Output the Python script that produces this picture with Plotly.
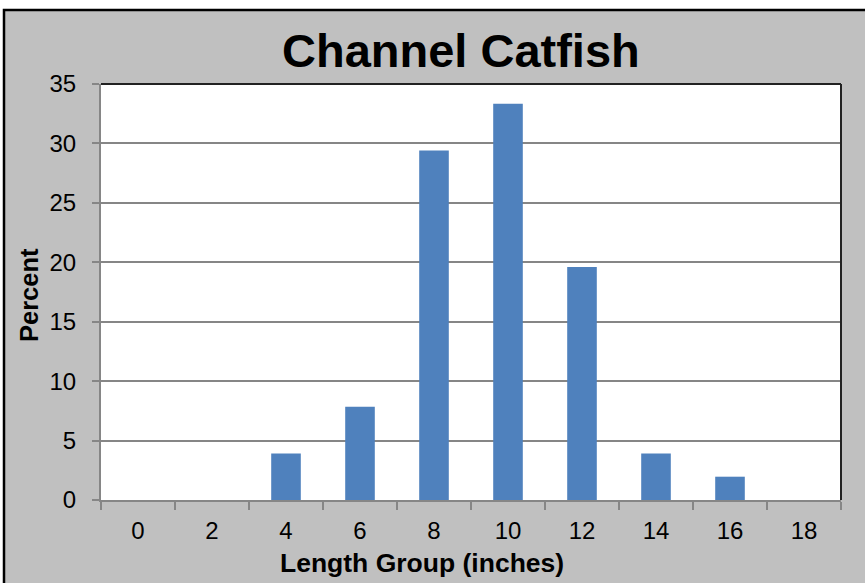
import plotly.graph_objects as go

length_groups = ["0", "2", "4", "6", "8", "10", "12", "14", "16", "18"]
percent = [0, 0, 3.92, 7.84, 29.41, 33.33, 19.61, 3.92, 1.96, 0]
y_ticks = [0, 5, 10, 15, 20, 25, 30, 35]

W, H = 865, 583
L, R, T, B = 101, 24, 84, 83
pw, ph = W - L - R, H - T - B

def px(x):
    return (x - L) / pw

def py(y):
    return (H - B - y) / ph

FONT = "Liberation Sans, Arial, sans-serif"
GRID = "#868686"

fig = go.Figure(go.Bar(
    x=length_groups, y=percent,
    marker=dict(color="#4F81BD", line=dict(width=0)),
    width=0.4,
))

shapes = [
    dict(type="rect", xref="paper", yref="paper", layer="below",
         x0=px(4), x1=px(880), y0=py(600), y1=py(10),
         fillcolor="#C0C0C0", line=dict(color="black", width=2.5)),
    dict(type="rect", xref="paper", yref="paper", layer="below",
         x0=0, x1=1, y0=0, y1=1, fillcolor="white", line=dict(width=0)),
    dict(type="line", xref="paper", yref="paper", x0=0, x1=1, y0=1, y1=1,
         line=dict(color="#222222", width=2)),
    dict(type="line", xref="paper", yref="paper", x0=1, x1=1, y0=0, y1=1,
         line=dict(color="#222222", width=2)),
]

annotations = [
    dict(text="<b>Channel Catfish</b>", xref="paper", yref="paper",
         x=px(461), y=py(51), xanchor="center", yanchor="middle",
         showarrow=False, font=dict(family=FONT, size=47, color="black")),
    dict(text="<b>Length Group (inches)</b>", xref="paper", yref="paper",
         x=px(422), y=py(563), xanchor="center", yanchor="middle",
         showarrow=False, font=dict(family=FONT, size=26.5, color="black")),
    dict(text="<b>Percent</b>", xref="paper", yref="paper", textangle=-90,
         x=px(29), y=py(295), xanchor="center", yanchor="middle",
         showarrow=False, font=dict(family=FONT, size=25.5, color="black")),
]

fig.update_layout(
    width=W, height=H,
    margin=dict(l=L, r=R, t=T, b=B, pad=0),
    paper_bgcolor="white",
    plot_bgcolor="rgba(0,0,0,0)",
    showlegend=False,
    font=dict(family=FONT, size=24, color="black"),
    shapes=shapes,
    annotations=annotations,
    bargap=0.6,
)

fig.update_xaxes(
    type="category", showgrid=False, showline=True, linecolor=GRID, linewidth=2,
    ticks="outside", tickson="boundaries", ticklen=8, tickcolor=GRID, tickwidth=2,
    ticklabelstandoff=8,
    tickfont=dict(family=FONT, size=24, color="black"),
)
fig.update_yaxes(
    range=[0, 35], tickvals=y_ticks, showgrid=True, gridcolor=GRID, gridwidth=1.5,
    showline=True, linecolor=GRID, linewidth=2, zeroline=False,
    ticks="outside", ticklen=7, tickcolor=GRID, tickwidth=2,
    ticklabelstandoff=11,
    tickfont=dict(family=FONT, size=24, color="black"),
)

fig.write_html(
    "out.html",
    config={"displayModeBar": False},
    post_script="document.body.style.margin='0';document.body.style.overflow='hidden';",
)
